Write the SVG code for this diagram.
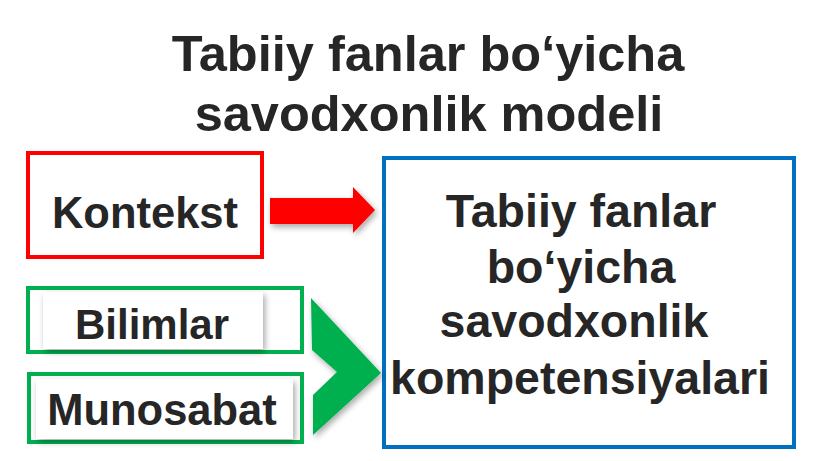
<svg xmlns="http://www.w3.org/2000/svg" width="819" height="461" viewBox="0 0 819 461">
<defs>
<filter id="sh" x="-10%" y="-20%" width="130%" height="150%">
<feGaussianBlur in="SourceAlpha" stdDeviation="3"/>
<feOffset dx="2" dy="3"/>
<feComponentTransfer><feFuncA type="linear" slope="0.35"/></feComponentTransfer>
<feMerge><feMergeNode/><feMergeNode in="SourceGraphic"/></feMerge>
</filter>
</defs>
<style>
text{font-family:"Liberation Sans",Arial,sans-serif;font-weight:bold;fill:#262626;text-anchor:middle}
.t{font-size:50.5px}
.m{font-size:43.5px}
.s{font-size:42px}
.b{font-size:46.5px}
.box{fill:#fff;stroke-width:4}
.inner{fill:#fff}
</style>
<rect width="819" height="461" fill="#fff"/>
<g id="title">
<text class="t" x="428" y="71">Tabiiy fanlar bo‘yicha</text>
<text class="t" x="429" y="131">savodxonlik modeli</text>
</g>
<g id="kontekst">
<rect class="box" x="28" y="153" width="234" height="104" stroke="#FF0000"/>
<text class="m" x="145" y="228">Kontekst</text>
</g>
<g id="bilimlar">
<rect class="box" x="28" y="288" width="274" height="64" stroke="#00B050"/>
<rect class="inner" x="43" y="292" width="220" height="57" filter="url(#sh)"/>
<text class="s" x="152" y="339">Bilimlar</text>
</g>
<g id="munosabat">
<rect class="box" x="29" y="374" width="273" height="68" stroke="#00B050"/>
<rect class="inner" x="36" y="379" width="257" height="60" filter="url(#sh)"/>
<text class="m" x="162" y="425">Munosabat</text>
</g>
<g id="competencies">
<rect class="box" x="384" y="158" width="410" height="289" stroke="#0070C0"/>
<text class="b" x="581" y="227">Tabiiy fanlar</text>
<text class="b" x="581" y="283">bo‘yicha</text>
<text class="b" x="574" y="337">savodxonlik</text>
<text class="b" x="580" y="394">kompetensiyalari</text>
</g>
<g id="connectors">
<polygon points="270,198 353,198 353,187 375,210 353,233 353,224 270,224" fill="#FF0000" filter="url(#sh)"/>
<polygon points="311,298 381,373 313,435 313,395 337,372 312,350" fill="#00B050" filter="url(#sh)"/>
</g>
</svg>
